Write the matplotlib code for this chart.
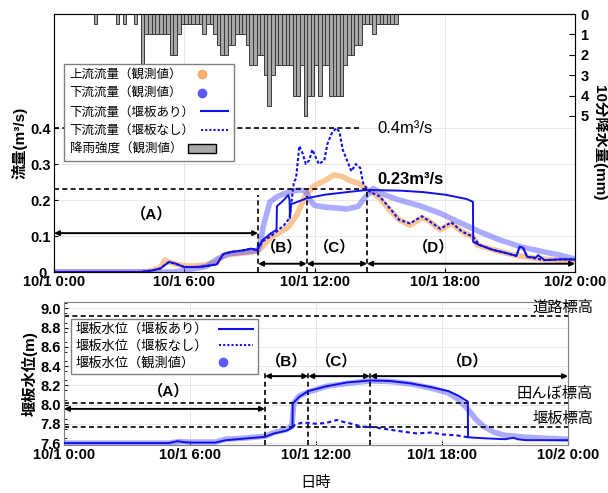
import numpy as np
import matplotlib
matplotlib.use('Agg')
import matplotlib.pyplot as plt
from matplotlib.lines import Line2D
from matplotlib.patches import Patch

plt.rcParams['font.family'] = ['Liberation Sans', 'Noto Sans CJK JP']

# ---- data (hours from 10/1 0:00) ----
rain_first_bin = 11  # index of first 10-min bin shown
rain_mm = [0.5, 0, 0, 0, 0, 0, 0.5, 0, 0.5, 0, 0, 0.5, 0,
           2.5, 1, 1, 1, 1, 1, 1, 1, 2, 2, 1, 0.5, 0.5, 0.5, 0.5, 0.5, 0.5,
           1, 0.5, 0.5, 1, 1.5, 2, 2, 1.5, 1.5, 1, 1, 1, 1.5, 2.5, 2.5, 2, 2,
           3, 4.5, 3, 2.5, 2.5, 2.5, 2.5, 2.5, 4, 4, 2.5, 5, 4, 4, 2.5, 4,
           2.5, 2.5, 4, 4, 4, 4, 2.5, 2, 2, 1.5, 1.5, 0.5, 0.5, 0.5, 1,
           0.5, 0.5, 0.5, 0.5, 0.5, 0.5]

t_up = [0, 4.0, 4.5, 4.9, 5.1, 5.3, 5.6, 6.0, 6.5, 7.0, 7.5, 7.8, 8.2, 8.7, 9.1, 9.4,
        9.6, 10.0, 10.4, 10.8, 11.2, 11.6, 12.0, 12.5, 12.9, 13.3, 13.6, 14.0, 14.4,
        14.8, 15.0, 15.5, 15.9, 16.4, 16.95, 17.2, 17.8, 18.3, 18.8, 19.3, 19.5, 20.3,
        21.2, 22.4, 24.0]
q_up = [0, 0, 0.003, 0.012, 0.033, 0.028, 0.022, 0.017, 0.017, 0.02, 0.028, 0.045,
        0.05, 0.052, 0.055, 0.06, 0.07, 0.097, 0.11, 0.125, 0.16, 0.215, 0.24, 0.255,
        0.27, 0.265, 0.255, 0.247, 0.23, 0.215, 0.205, 0.17, 0.145, 0.13, 0.15, 0.145,
        0.117, 0.135, 0.112, 0.098, 0.075, 0.061, 0.047, 0.036, 0.03]

t_dn = [0, 5.5, 6.0, 6.5, 7.0, 7.5, 8.0, 8.7, 9.4, 9.5, 9.65, 9.95, 10.3, 10.8, 11.3,
        11.6, 11.8, 12.0, 12.5, 13.0, 13.5, 14.0, 14.3, 14.7, 15.2, 15.9, 16.8, 17.8,
        18.6, 19.6, 20.5, 21.5, 22.4, 23.3, 24.0]
q_dn = [0, 0, 0.004, 0.01, 0.015, 0.035, 0.05, 0.055, 0.06, 0.08, 0.13, 0.195, 0.21,
        0.222, 0.228, 0.225, 0.2, 0.185, 0.18, 0.178, 0.175, 0.182, 0.205, 0.232, 0.215,
        0.2, 0.185, 0.163, 0.14, 0.112, 0.09, 0.07, 0.058, 0.047, 0.036]

t_weir = [0, 4.0, 4.5, 4.9, 5.3, 5.6, 6.0, 6.7, 7.5, 7.8, 8.2, 8.7, 9.1, 9.35, 9.6,
          10.0, 10.25, 10.27, 10.5, 10.8, 10.85, 10.87, 10.92, 11.0, 11.64, 12.5, 13.5,
          14.42, 16.0, 17.0, 18.0, 19.0, 19.3, 19.31, 19.6, 20.2, 20.8, 21.3, 21.45,
          21.6, 21.8, 22.2, 22.3, 22.6, 23.3, 24.0]
q_weir = [0, 0, 0.004, 0.01, 0.028, 0.023, 0.014, 0.014, 0.021, 0.05, 0.056, 0.06,
          0.065, 0.06, 0.088, 0.108, 0.117, 0.183, 0.195, 0.214, 0.2, 0.15, 0.19, 0.19,
          0.205, 0.215, 0.222, 0.228, 0.226, 0.222, 0.215, 0.203, 0.195, 0.084, 0.075,
          0.062, 0.053, 0.045, 0.07, 0.068, 0.042, 0.04, 0.047, 0.033, 0.035, 0.035]

t_noweir = [0, 4.0, 4.5, 4.9, 5.3, 5.6, 6.0, 6.7, 7.5, 7.8, 8.2, 8.7, 9.1, 9.35, 9.6,
            10.0, 10.3, 10.6, 10.85, 10.95, 11.05, 11.15, 11.3, 11.45, 11.6, 11.75,
            11.9, 12.05, 12.2, 12.45, 12.6, 12.8, 13.0, 13.15, 13.3, 13.5, 13.7, 13.9,
            14.1, 14.25, 14.45, 14.65, 15.0, 15.5, 15.9, 16.4, 16.95, 17.2, 17.8, 18.3,
            18.8, 19.3, 19.6, 20.2, 20.8, 21.3, 21.45, 21.6, 21.8, 22.6, 23.3, 24.0]
q_noweir = [0, 0, 0.004, 0.01, 0.028, 0.023, 0.014, 0.014, 0.021, 0.05, 0.056, 0.06,
            0.065, 0.06, 0.085, 0.1, 0.115, 0.13, 0.15, 0.2, 0.25, 0.26, 0.35, 0.33,
            0.30, 0.31, 0.34, 0.32, 0.30, 0.31, 0.357, 0.386, 0.40, 0.39, 0.34, 0.31,
            0.28, 0.30, 0.29, 0.245, 0.228, 0.22, 0.21, 0.175, 0.145, 0.135, 0.155,
            0.145, 0.12, 0.138, 0.112, 0.098, 0.075, 0.062, 0.053, 0.045, 0.07, 0.068,
            0.042, 0.033, 0.035, 0.035]

t_hw = [0, 5.0, 5.4, 5.7, 6.0, 7.2, 7.7, 8.5, 9.57, 10.0, 10.6, 10.88, 10.89, 11.2,
        11.63, 12.5, 13.5, 14.57, 15.5, 16.5, 17.5, 18.3, 18.8, 19.23, 19.24, 20.0, 21.0,
        21.4, 21.6, 22.0, 24.0]
h_weir = [7.6, 7.6, 7.62, 7.61, 7.605, 7.605, 7.63, 7.645, 7.665, 7.7, 7.73, 7.76,
          8.01, 8.08, 8.14, 8.19, 8.23, 8.25, 8.245, 8.22, 8.18, 8.14, 8.09, 8.03, 7.66,
          7.65, 7.64, 7.655, 7.64, 7.63, 7.63]

t_hn = [10.88, 11.0, 11.3, 11.63, 12.0, 12.5, 13.0, 13.3, 13.7, 14.2, 14.57, 14.9,
        15.5, 16.1, 16.8, 17.5, 18.0, 18.7, 19.24]
h_noweir = [7.76, 7.79, 7.81, 7.81, 7.8, 7.81, 7.84, 7.82, 7.8, 7.77, 7.77, 7.76,
            7.74, 7.72, 7.7, 7.71, 7.69, 7.68, 7.66]

t_ho = [0, 5.0, 5.5, 6.0, 7.2, 7.7, 8.5, 9.57, 10.0, 10.6, 10.85, 10.95, 11.2, 11.63,
        12.5, 13.5, 14.57, 15.5, 16.5, 17.5, 18.3, 18.8, 19.2, 19.6, 20.0, 20.5, 21.0,
        22.0, 23.0, 24.0]
h_obs = [7.6, 7.6, 7.615, 7.61, 7.61, 7.64, 7.65, 7.67, 7.71, 7.74, 7.78, 8.02, 8.09,
         8.13, 8.19, 8.22, 8.245, 8.24, 8.215, 8.17, 8.12, 8.05, 7.96, 7.85, 7.77, 7.71,
         7.68, 7.66, 7.65, 7.64]

bounds_top = [9.4, 11.64, 14.42]
bounds_bot = [9.57, 11.63, 14.57]
levels = {'道路標高': 8.92, '田んぼ標高': 8.02, '堰板標高': 7.765}

xticks = [0, 6, 12, 18, 24]
xticklabels = ['10/1 0:00', '10/1 6:00', '10/1 12:00', '10/1 18:00', '10/2 0:00']

BLUE = '#1010e8'
LBLUE = '#5a5aff'
ORANGE = '#f9a04f'
tick_font = dict(fontsize=10.5, fontweight='bold')

fig = plt.figure(figsize=(6.08, 4.93), dpi=100)
ax = fig.add_axes([54 / 608, 1 - 272 / 493, 521 / 608, 258 / 493])
ax2 = ax.twinx()
axb = fig.add_axes([64 / 608, 1 - 445 / 493, 504 / 608, 143 / 493])


def arrow(a, x0, x1, y):
    a.annotate('', xy=(x1, y), xytext=(x0, y),
               arrowprops=dict(arrowstyle='<|-|>', color='black', lw=1.4,
                               mutation_scale=7, shrinkA=0, shrinkB=0))


def left_align(leg):
    # keep text left-aligned although the handles sit on the right
    for col in leg._legend_handle_box.get_children():
        col.align = 'left'


# ---- top: flow + rain ----
ax.plot(t_up, q_up, color=ORANGE, lw=4, alpha=0.6, solid_capstyle='round', zorder=2)
ax.plot(t_dn, q_dn, color=LBLUE, lw=4, alpha=0.5, solid_capstyle='round', zorder=2)
ax.plot(t_noweir, q_noweir, color=BLUE, lw=1.5, ls=(0, (1.5, 1)), zorder=3)
ax.plot(t_weir, q_weir, color=BLUE, lw=1.4, zorder=4)

rain_t = (np.arange(len(rain_mm)) + rain_first_bin) / 6.0
ax2.bar(rain_t, rain_mm, width=1 / 6, align='edge', color='#a8a8a8',
        edgecolor='#3a3a3a', lw=0.7)
ax2.set_ylim(12.65, 0)
ax2.set_yticks([0, 1, 2, 3, 4, 5])
ax2.set_yticklabels([str(v) for v in range(6)], **tick_font)
ax2.tick_params(axis='y', direction='in', length=4, pad=4)
ax2.set_ylabel('10分降水量(mm)', rotation=270, fontsize=11, fontweight='bold', labelpad=14)

ax.set_xlim(0, 24)
ax.set_ylim(0, 0.717)
ax.set_yticks([0, 0.1, 0.2, 0.3, 0.4])
ax.set_yticklabels(['0.', '0.1', '0.2', '0.3', '0.4'], **tick_font)
ax.set_xticks(xticks)
ax.set_xticklabels(xticklabels, **tick_font)
ax.tick_params(direction='in', length=3, pad=2)
ax.grid(color='#e4e4e4', lw=0.6)
ax.set_ylabel('流量(m³/s)', fontsize=11, fontweight='bold', labelpad=2)

# reference lines and periods
ax.plot([0, 14.1], [0.4, 0.4], 'k--', lw=1.2, dashes=(3, 2))
ax.plot([0, bounds_top[2]], [0.23, 0.23], 'k--', lw=1.2, dashes=(3, 2))
for b, top in zip(bounds_top, [0.214, 0.21, 0.23]):
    ax.plot([b, b], [0, top], 'k--', lw=1.2, dashes=(3, 2))
ax.text(14.9, 0.4, '0.4m³/s', fontsize=12, va='center')
ax.text(14.9, 0.256, '0.23m³/s', fontsize=12, fontweight='bold', va='center')
arrow(ax, 0, bounds_top[0], 0.108)
arrow(ax, bounds_top[0], bounds_top[1], 0.023)
arrow(ax, bounds_top[1], bounds_top[2], 0.023)
arrow(ax, bounds_top[2], 24, 0.023)
for lab, x, y in [('（A）', 4.5, 0.16), ('（B）', 10.5, 0.068), ('（C）', 12.95, 0.068),
                  ('（D）', 17.5, 0.068)]:
    ax.text(x, y, lab, fontsize=11, fontweight='bold', ha='center', va='center')
for s in ax.spines.values():
    s.set_color('#808080')

h_top = [Line2D([], [], color=ORANGE, marker='o', ls='', ms=6, alpha=0.8),
         Line2D([], [], color=LBLUE, marker='o', ls='', ms=6),
         Line2D([], [], color=BLUE, lw=1.5),
         Line2D([], [], color=BLUE, lw=1.5, ls=(0, (1, 1))),
         Patch(facecolor='#a8a8a8', edgecolor='black')]
l_top = ['上流流量（観測値）', '下流流量（観測値）', '下流流量（堰板あり）',
         '下流流量（堰板なし）', '降雨強度（観測値）']
leg = ax2.legend(h_top, l_top, loc='upper left', bbox_to_anchor=(64 / 608, 1 - 64 / 493),
                 bbox_transform=fig.transFigure, markerfirst=False, fontsize=9,
                 fancybox=False, edgecolor='#808080', framealpha=1, borderpad=0.45,
                 labelspacing=0.52, handlelength=2.2, handletextpad=0.5, borderaxespad=0)
left_align(leg)

# ---- bottom: weir water level ----
axb.plot(t_ho, h_obs, color=LBLUE, lw=4, alpha=0.5, solid_capstyle='round', zorder=2)
axb.plot(t_hn, h_noweir, color=BLUE, lw=1.5, ls=(0, (2, 1.5)), zorder=3)
axb.plot(t_hw, h_weir, color=BLUE, lw=1.4, zorder=4)
for name, lv in levels.items():
    axb.plot([0, 24], [lv, lv], 'k--', lw=1.2, dashes=(3, 2))
    axb.text(25.2, lv + 0.09, name, fontsize=11, ha='right', va='center')
for b in bounds_bot:
    axb.plot([b, b], [7.58, 8.36], 'k--', lw=1.2, dashes=(3, 2))
arrow(axb, 0, bounds_bot[0], 7.955)
arrow(axb, bounds_bot[0], bounds_bot[1], 8.295)
arrow(axb, bounds_bot[1], bounds_bot[2], 8.295)
arrow(axb, bounds_bot[2], 24, 8.295)
for lab, x, y in [('（A）', 5.0, 8.14), ('（B）', 10.6, 8.45), ('（C）', 13.0, 8.45),
                  ('（D）', 19.2, 8.45)]:
    axb.text(x, y, lab, fontsize=11, fontweight='bold', ha='center', va='center')

axb.set_xlim(0, 24)
axb.set_ylim(7.58, 9.065)
axb.set_yticks([7.6, 7.8, 8.0, 8.2, 8.4, 8.6, 8.8, 9.0])
axb.set_yticklabels(['7.6', '7.8', '8.0', '8.2', '8.4', '8.6', '8.8', '9.0'], **tick_font)
axb.set_xticks(xticks)
axb.set_xticklabels(xticklabels, **tick_font)
axb.set_yticks(np.arange(7.65, 9.05, 0.1), minor=True)
axb.tick_params(direction='in', length=3, pad=2)
axb.tick_params(which='minor', direction='in', length=2)
axb.grid(color='#e4e4e4', lw=0.6)
axb.set_ylabel('堰板水位(m)', fontsize=11, fontweight='bold', labelpad=2)
axb.set_xlabel('日時', fontsize=11, labelpad=10)
for s in axb.spines.values():
    s.set_color('#808080')

h_bot = [Line2D([], [], color=BLUE, lw=1.5),
         Line2D([], [], color=BLUE, lw=1.5, ls=(0, (1, 1))),
         Line2D([], [], color=LBLUE, marker='o', ls='', ms=6)]
l_bot = ['堰板水位（堰板あり）', '堰板水位（堰板なし）', '堰板水位（観測値）']
legb = axb.legend(h_bot, l_bot, loc='upper left', bbox_to_anchor=(71 / 608, 1 - 319 / 493),
                  bbox_transform=fig.transFigure, markerfirst=False, fontsize=9.5,
                  fancybox=False, edgecolor='#808080', framealpha=1, borderpad=0.35,
                  labelspacing=0.3, handlelength=2.6, handletextpad=0.8, borderaxespad=0)
left_align(legb)

fig.savefig('out.png', dpi=100)
